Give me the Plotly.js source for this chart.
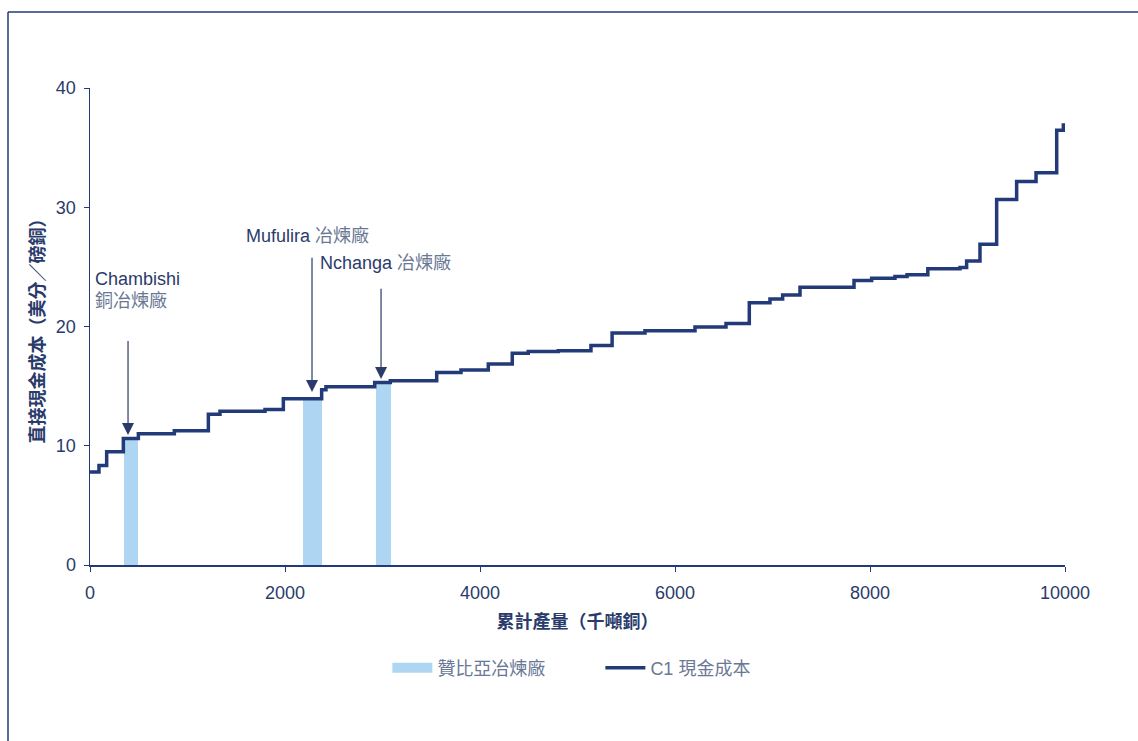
<!DOCTYPE html>
<html>
<head>
<meta charset="utf-8">
<script src="https://cdn.plot.ly/plotly-3.0.1.min.js"></script>
<style>html,body{margin:0;padding:0;background:#fff;}#chart{width:1138px;height:741px;}</style>
</head>
<body>
<div id="chart"></div>
<script>
// Cumulative production (kt copper) where each cost step begins, and C1 cash cost (US c/lb)
const stepStart = [0, 92, 171, 342, 496, 865, 1214, 1333, 1795, 1983, 2376, 2420, 2920, 3080, 3556, 3805, 4085, 4331, 4495, 4803, 5138, 5355, 5692, 6205, 6523, 6762, 6974, 7104, 7282, 7836, 8017, 8256, 8380, 8593, 8923, 8991, 9128, 9299, 9504, 9703, 9915, 9983, 10000];
const stepCost  = [7.8, 8.35, 9.5, 10.6, 11.0, 11.25, 12.65, 12.9, 13.05, 13.95, 14.7, 14.95, 15.3, 15.45, 16.15, 16.35, 16.85, 17.75, 17.9, 17.97, 18.4, 19.45, 19.65, 19.95, 20.25, 22.0, 22.3, 22.65, 23.3, 23.85, 24.05, 24.2, 24.35, 24.85, 24.95, 25.5, 26.9, 30.65, 32.15, 32.9, 36.45, 36.9, 36.9];

// Zambian smelters (start, end of cumulative production, cost)
const smelterNames = ["Chambishi", "Mufulira", "Nchanga"];
const smelterStart = [349, 2181, 2933];
const smelterEnd   = [495, 2382, 3084];
const smelterCost  = [10.6, 13.95, 15.3];

const xTicks = [0, 2000, 4000, 6000, 8000, 10000];
const yTicks = [0, 10, 20, 30, 40];

const navy = '#233a78';
const barBlue = '#aed5f2';
const textDark = '#2a3b6b';
const textLight = '#6a7896';
const fontFam = '"Liberation Sans", Arial, "Noto Sans CJK TC", sans-serif';
const cjkFam = '"Liberation Sans", "Noto Sans CJK TC", sans-serif';

const barTrace = {
  type: 'bar',
  name: '贊比亞冶煉廠',
  legendgroup: 'smelter',
  showlegend: false,
  x: smelterStart.map((s, i) => (s + smelterEnd[i]) / 2),
  width: smelterStart.map((s, i) => smelterEnd[i] - s),
  y: smelterCost,
  marker: {color: barBlue, line: {width: 0}},
  hoverinfo: 'skip'
};

// legend entry for the smelter bars (wide rectangular swatch)
const barLegend = {
  type: 'scatter', mode: 'lines', name: '贊比亞冶煉廠', legendgroup: 'smelter',
  x: [null], y: [null],
  line: {color: barBlue, width: 14},
  hoverinfo: 'skip'
};

const lineTrace = {
  type: 'scatter',
  mode: 'lines',
  name: 'C1 <span style="color:' + textLight + '">現金成本</span>',
  x: stepStart,
  y: stepCost,
  line: {shape: 'hv', color: navy, width: 3.5},
  hoverinfo: 'skip'
};

// arrow annotations: [x, tip y, tail y]
const arrowX = [390, 2277, 2985];
const arrowTip = [10.9, 14.5, 15.6];
const arrowTail = [18.9, 25.9, 23.3];

const annotations = [];
arrowX.forEach((x, i) => {
  annotations.push({
    x: x, y: arrowTip[i], ax: x, ay: arrowTail[i],
    xref: 'x', yref: 'y', axref: 'x', ayref: 'y',
    showarrow: true, arrowhead: 2, arrowsize: 2, arrowwidth: 1.2,
    arrowcolor: textDark, text: ''
  });
});
const labelFont = {family: cjkFam, size: 18, color: textDark};
annotations.push({x: 30, y: 24.0, xref: 'x', yref: 'y', xanchor: 'left', yanchor: 'middle', showarrow: false,
  text: 'Chambishi', font: labelFont});
annotations.push({x: 30, y: 22.2, xref: 'x', yref: 'y', xanchor: 'left', yanchor: 'middle', showarrow: false,
  text: '<span style="color:' + textLight + '">銅冶煉廠</span>', font: labelFont});
annotations.push({x: 1580, y: 27.6, xref: 'x', yref: 'y', xanchor: 'left', yanchor: 'middle', showarrow: false,
  text: 'Mufulira <span style="color:' + textLight + '">冶煉廠</span>', font: labelFont});
annotations.push({x: 2339, y: 25.4, xref: 'x', yref: 'y', xanchor: 'left', yanchor: 'middle', showarrow: false,
  text: 'Nchanga <span style="color:' + textLight + '">冶煉廠</span>', font: labelFont});

const layout = {
  width: 1138, height: 741,
  margin: {l: 90, r: 73, t: 88, b: 176},
  paper_bgcolor: '#fff', plot_bgcolor: '#fff',
  showlegend: true,
  bargap: 0,
  font: {family: fontFam, color: textDark, size: 18},
  xaxis: {
    range: [0, 10000], tickvals: xTicks, ticktext: xTicks.map(String),
    showgrid: false, zeroline: false, showline: true, linecolor: navy, linewidth: 1.5,
    ticks: 'outside', ticklen: 5, tickcolor: navy, tickwidth: 1,
    ticklabelstandoff: 6,
    tickfont: {family: fontFam, size: 18, color: textDark},
    title: {text: '累計產量（千噸銅）', font: {family: '"Noto Sans CJK TC", sans-serif', size: 18, color: textDark, weight: 'bold'}, standoff: 13},
    fixedrange: true
  },
  yaxis: {
    range: [0, 40], tickvals: yTicks, ticktext: yTicks.map(String),
    showgrid: false, zeroline: false, showline: true, linecolor: navy, linewidth: 1.5,
    ticks: 'outside', ticklen: 5, tickcolor: navy, tickwidth: 1,
    ticklabelstandoff: 4,
    tickfont: {family: fontFam, size: 18, color: textDark},
    title: {text: '直接現金成本（美分／磅銅）', font: {family: '"Noto Sans CJK TC", sans-serif', size: 18, color: textDark, weight: 'bold'}, standoff: 6},
    fixedrange: true
  },
  legend: {
    orientation: 'h', x: 0.305, xanchor: 'left', y: -0.216, yanchor: 'middle',
    font: {family: cjkFam, size: 18, color: textLight},
    itemwidth: 40, traceorder: 'normal', entrywidth: 158
  },
  annotations: annotations,
  shapes: [
    {type: 'line', xref: 'paper', yref: 'paper', x0: -0.0841, x1: 1.08, y0: 1.1593, y1: 1.1593, line: {color: navy, width: 1.5}},
    {type: 'line', xref: 'paper', yref: 'paper', x0: -0.0841, x1: -0.0841, y0: 1.1593, y1: -0.38, line: {color: navy, width: 1.5}}
  ]
};

Plotly.newPlot('chart', [barTrace, barLegend, lineTrace], layout, {displayModeBar: false, staticPlot: true});
</script>
</body>
</html>
